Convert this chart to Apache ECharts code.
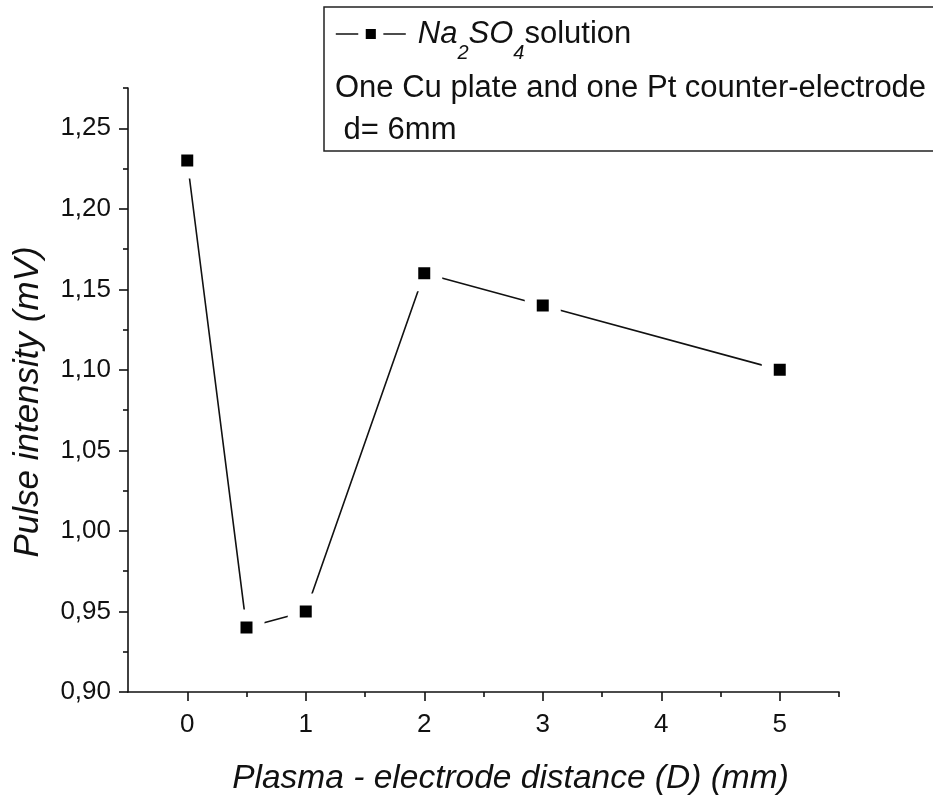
<!DOCTYPE html>
<html>
<head>
<meta charset="utf-8">
<script src="https://cdn.jsdelivr.net/npm/echarts@6/dist/echarts.min.js"></script>
<style>
  html, body { margin: 0; padding: 0; background: #fff; }
  #chart { width: 933px; height: 796px; }
</style>
</head>
<body>
<div id="chart"></div>
<script>
// Pulse intensity versus plasma–electrode distance
const distances   = [0, 0.5, 1, 2, 3, 5];
const intensities = [1.23, 0.94, 0.95, 1.16, 1.14, 1.10];

const xMajorTicks = [0, 1, 2, 3, 4, 5];
const xMinorTicks = [0.5, 1.5, 2.5, 3.5, 4.5, 5.5];
const yMajorTicks = [0.90, 0.95, 1.00, 1.05, 1.10, 1.15, 1.20, 1.25];
const yMinorTicks = [0.925, 0.975, 1.025, 1.075, 1.125, 1.175, 1.225, 1.275];

const seriesName = 'Na2SO4 solution';
const noteLines = ['One Cu plate and one Pt counter-electrode', ' d= 6mm'];

const FONT = '"Liberation Sans", Arial, sans-serif';
const INK = '#111';

const points = distances.map((d, i) => [d, intensities[i]]);

const chart = echarts.init(document.getElementById('chart'), null, { renderer: 'canvas' });

const axisLineStyle = { color: INK, width: 1.6 };

chart.setOption({
  backgroundColor: '#fff',
  animation: false,
  grid: { left: 128, right: 94, top: 88, bottom: 104, containLabel: false, outerBoundsMode: 'none' },
  xAxis: [
    {
      type: 'value', min: -0.5, max: 5.5, position: 'bottom',
      name: 'Plasma - electrode distance (D) (mm)',
      nameLocation: 'middle', nameGap: 70,
      nameTextStyle: { fontFamily: FONT, fontSize: 33.5, fontStyle: 'italic', color: INK, padding: [0, 0, 0, 54] },
      axisLine: { show: true, onZero: false, lineStyle: axisLineStyle },
      axisTick: { show: true, inside: false, length: 9, lineStyle: axisLineStyle, customValues: xMajorTicks },
      axisLabel: { show: true, margin: 20, fontFamily: FONT, fontSize: 26, color: INK, customValues: xMajorTicks,
                   formatter: v => String(v) },
      splitLine: { show: false }
    },
    {
      type: 'value', min: -0.5, max: 5.5, position: 'bottom',
      axisLine: { show: false, onZero: false },
      axisTick: { show: true, inside: false, length: 5, lineStyle: axisLineStyle, customValues: xMinorTicks },
      axisLabel: { show: false },
      splitLine: { show: false }
    }
  ],
  yAxis: [
    {
      type: 'value', min: 0.9, max: 1.275, position: 'left',
      name: 'Pulse intensity (mV)',
      nameLocation: 'middle', nameGap: 82,
      nameTextStyle: { fontFamily: FONT, fontSize: 35, fontStyle: 'italic', color: INK, padding: [0, 24, 0, 0] },
      axisLine: { show: true, onZero: false, lineStyle: axisLineStyle },
      axisTick: { show: true, inside: false, length: 9, lineStyle: axisLineStyle, customValues: yMajorTicks },
      axisLabel: { show: true, margin: 17, fontFamily: FONT, fontSize: 26, color: INK, customValues: yMajorTicks,
                   formatter: v => v.toFixed(2).replace('.', ',') },
      splitLine: { show: false }
    },
    {
      type: 'value', min: 0.9, max: 1.275, position: 'left',
      axisLine: { show: false, onZero: false },
      axisTick: { show: true, inside: false, length: 5, lineStyle: axisLineStyle, customValues: yMinorTicks },
      axisLabel: { show: false },
      splitLine: { show: false }
    }
  ],
  legend: {
    show: true,
    left: 335, top: 5,
    itemWidth: 70, itemHeight: 22,
    padding: 0,
    data: [{ name: seriesName }],
    itemStyle: { color: '#000', borderColor: '#fff', borderWidth: 7.5 },
    lineStyle: { color: INK, width: 1.6 },
    formatter: () => '{i0|Na}{s|2}{i|SO}{s|4}{n|solution}',
    textStyle: {
      fontFamily: FONT, fontSize: 31, color: INK,
      rich: {
        i0: { fontFamily: FONT, fontSize: 31, fontStyle: 'italic', color: INK, lineHeight: 36, padding: [0, 0, 0, 7] },
        i: { fontFamily: FONT, fontSize: 31, fontStyle: 'italic', color: INK, lineHeight: 36 },
        s: { fontFamily: FONT, fontSize: 20, fontStyle: 'italic', color: INK, lineHeight: 20, padding: [38, 0, 0, 0] },
        n: { fontFamily: FONT, fontSize: 31, color: INK, lineHeight: 36 }
      }
    }
  },
  graphic: [
    {
      // the note box runs on past the right edge of the chart
      type: 'polyline', z: 0, silent: true,
      shape: { points: [[940, 7], [324, 7], [324, 151], [940, 151]] },
      style: { fill: null, stroke: '#222', lineWidth: 1.5 }
    },
    {
      type: 'text', x: 335, y: 73, z: 10, silent: true,
      style: { text: noteLines[0], font: '31px ' + FONT, fill: INK }
    },
    {
      type: 'text', x: 335, y: 115, z: 10, silent: true,
      style: { text: noteLines[1], font: '31px ' + FONT, fill: INK }
    }
  ],
  series: [
    {
      name: seriesName,
      type: 'line',
      xAxisIndex: 0, yAxisIndex: 0,
      data: points,
      symbol: 'rect',
      symbolSize: 24,
      itemStyle: { color: '#000', borderColor: '#fff', borderWidth: 12 },
      lineStyle: { color: INK, width: 1.6 },
      clip: false,
      z: 5
    }
  ]
});
</script>
</body>
</html>
